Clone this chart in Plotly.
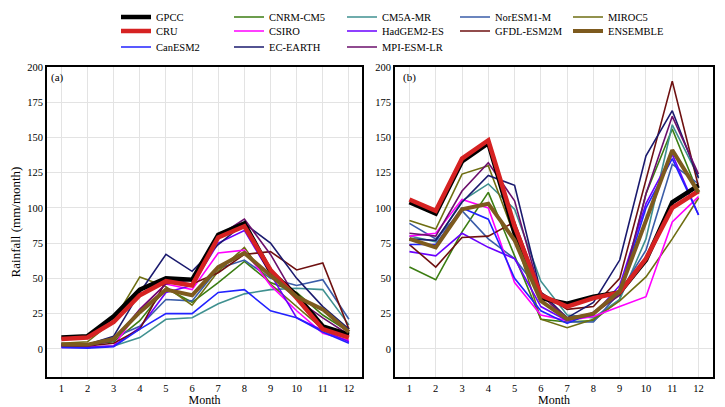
import plotly.graph_objects as go

months = list(range(1, 13))

# panel (a) monthly rainfall, mm/month
gpcc_a = [8, 9, 23, 42, 50, 49, 81, 89, 55, 38, 16, 10]
cru_a = [7, 8, 19, 38, 48, 45, 79, 87, 56, 36, 14, 8]
canesm2_a = [1, 0.5, 1.5, 14, 25, 25, 40, 42, 27, 22, 12, 4]
cnrm_a = [2, 3, 5, 20, 43, 33, 47, 62, 47, 40, 24, 12]
csiro_a = [1, 1, 2, 28, 46, 42, 68, 70, 45, 27, 11, 6]
ecearth_a = [3, 3, 9, 40, 67, 55, 74, 89, 75, 50, 30, 14]
cm5a_a = [1, 1, 2, 8, 21, 22, 32, 39, 42, 43, 42, 17]
hadgem_a = [2, 1, 2, 15, 40, 45, 75, 84, 53, 22, 13, 5]
mpi_a = [3, 2, 6, 28, 46, 49, 80, 92, 67, 35, 22, 10]
noresm_a = [4, 3, 8, 16, 35, 34, 57, 63, 50, 45, 49, 21]
gfdl_a = [2, 2, 4, 14, 48, 46, 54, 67, 69, 56, 61, 14]
miroc5_a = [4, 5, 20, 51, 44, 31, 55, 72, 46, 30, 14, 10]
ensemble_a = [3, 3, 7, 26, 42, 38, 58, 68, 52, 37, 28, 12]

# panel (b)
gpcc_b = [104, 96, 133, 146, 82, 36, 32, 37, 40, 63, 104, 116]
cru_b = [106, 98, 135, 148, 87, 38, 30, 36, 40, 64, 100, 112]
canesm2_b = [74, 74, 100, 92, 50, 27, 18, 26, 40, 100, 135, 95]
cnrm_b = [58, 49, 83, 111, 66, 21, 19, 20, 35, 110, 156, 110]
csiro_b = [80, 82, 106, 100, 47, 24, 20, 23, 30, 37, 90, 108]
ecearth_b = [78, 77, 104, 123, 116, 40, 22, 33, 63, 137, 169, 121]
cm5a_b = [80, 76, 105, 117, 99, 48, 24, 22, 35, 78, 159, 122]
hadgem_b = [69, 66, 82, 72, 64, 30, 20, 24, 45, 103, 138, 95]
mpi_b = [82, 80, 112, 132, 105, 38, 22, 25, 38, 110, 165, 124]
noresm_b = [89, 78, 98, 78, 64, 40, 19, 19, 40, 70, 131, 117]
gfdl_b = [74, 58, 79, 80, 90, 40, 28, 30, 50, 120, 190, 115]
miroc5_b = [91, 85, 124, 130, 80, 21, 15, 21, 34, 51, 78, 107]
ensemble_b = [78, 72, 99, 103, 77, 34, 21, 25, 41, 90, 141, 111]

# name, colour, width, legend row, data a, data b  (models first, obs + ensemble on top)
series = [
    ("CNRM-CM5", "#3b7d12", 1.6, "legend", cnrm_a, cnrm_b),
    ("CM5A-MR", "#3f9090", 1.6, "legend", cm5a_a, cm5a_b),
    ("NorESM1-M", "#3a5ca8", 1.6, "legend", noresm_a, noresm_b),
    ("MIROC5", "#6e6e12", 1.6, "legend", miroc5_a, miroc5_b),
    ("CSIRO", "#ff00ff", 1.6, "legend2", csiro_a, csiro_b),
    ("HadGEM2-ES", "#6a00ff", 1.6, "legend2", hadgem_a, hadgem_b),
    ("GFDL-ESM2M", "#6e1010", 1.6, "legend2", gfdl_a, gfdl_b),
    ("CanESM2", "#2222ff", 1.6, "legend3", canesm2_a, canesm2_b),
    ("EC-EARTH", "#1a1a6e", 1.6, "legend3", ecearth_a, ecearth_b),
    ("MPI-ESM-LR", "#6b0f6b", 1.6, "legend3", mpi_a, mpi_b),
    ("GPCC", "black", 4.5, "legend", gpcc_a, gpcc_b),
    ("CRU", "#d62222", 4.5, "legend2", cru_a, cru_b),
    ("ENSEMBLE", "#7d5a1e", 4, "legend2", ensemble_a, ensemble_b),
]

# legend order inside each row
rank = {"GPCC": 1, "CNRM-CM5": 2, "CM5A-MR": 3, "NorESM1-M": 4, "MIROC5": 5,
        "CRU": 1, "CSIRO": 2, "HadGEM2-ES": 3, "GFDL-ESM2M": 4, "ENSEMBLE": 5,
        "CanESM2": 1, "EC-EARTH": 2, "MPI-ESM-LR": 3}

fig = go.Figure()
for name, col, w, leg, ya, yb in series:
    fig.add_trace(go.Scatter(x=months, y=ya, mode="lines", name=name,
                             line=dict(color=col, width=w), legend=leg,
                             legendrank=rank[name], xaxis="x", yaxis="y"))
    fig.add_trace(go.Scatter(x=months, y=yb, mode="lines", name=name,
                             line=dict(color=col, width=w), showlegend=False,
                             xaxis="x2", yaxis="y2"))

# page body has an 8px margin, so the figure is 8px smaller than the window
W, H = 717, 399

font = "Liberation Serif"
axis_common = dict(showline=True, linecolor="black", linewidth=2, mirror=True,
                   showgrid=True, gridcolor="#e3e3e3", gridwidth=1, zeroline=False,
                   ticks="", automargin=False,
                   tickfont=dict(family=font, size=10.5, color="black"))

legend_common = dict(orientation="h", xref="container", yref="container",
                     xanchor="left", yanchor="middle", entrywidth=68,
                     entrywidthmode="pixels", font=dict(family=font, size=10.5, color="black"),
                     bgcolor="rgba(0,0,0,0)", itemclick=False, tracegroupgap=0)

fig.update_layout(
    width=W, height=H,
    margin=dict(l=0, r=0, t=0, b=0, autoexpand=False),
    paper_bgcolor="white", plot_bgcolor="white",
    font=dict(family=font, color="black"),
    xaxis=dict(domain=[39 / W, 354 / W], range=[0.45, 12.5], tickvals=months,
               title=dict(text="Month", font=dict(size=12), standoff=5), **axis_common),
    yaxis=dict(domain=[1 - 369 / H, 1 - 59 / H], range=[-20, 200],
               tickvals=list(range(0, 201, 25)),
               title=dict(text="Rainfall (mm/month)", font=dict(size=13), standoff=8),
               **axis_common),
    xaxis2=dict(domain=[387 / W, 705 / W], range=[0.45, 12.55], tickvals=months,
                anchor="y2", title=dict(text="Month", font=dict(size=12), standoff=5),
                **axis_common),
    yaxis2=dict(domain=[1 - 369 / H, 1 - 59 / H], range=[-20, 200],
                tickvals=list(range(0, 201, 25)), anchor="x2", **axis_common),
    legend=dict(x=108 / W, y=1 - 9 / H, **legend_common),
    legend2=dict(x=108 / W, y=1 - 23 / H, **legend_common),
    legend3=dict(x=108 / W, y=1 - 39 / H, **legend_common),
    annotations=[
        dict(text="(a)", xref="x domain", yref="y domain", x=0.005, y=0.995,
             xanchor="left", yanchor="top", showarrow=False, font=dict(size=11)),
        dict(text="(b)", xref="x2 domain", yref="y2 domain", x=0.02, y=0.995,
             xanchor="left", yanchor="top", showarrow=False, font=dict(size=11)),
    ],
)

fig.write_html("out.html")
